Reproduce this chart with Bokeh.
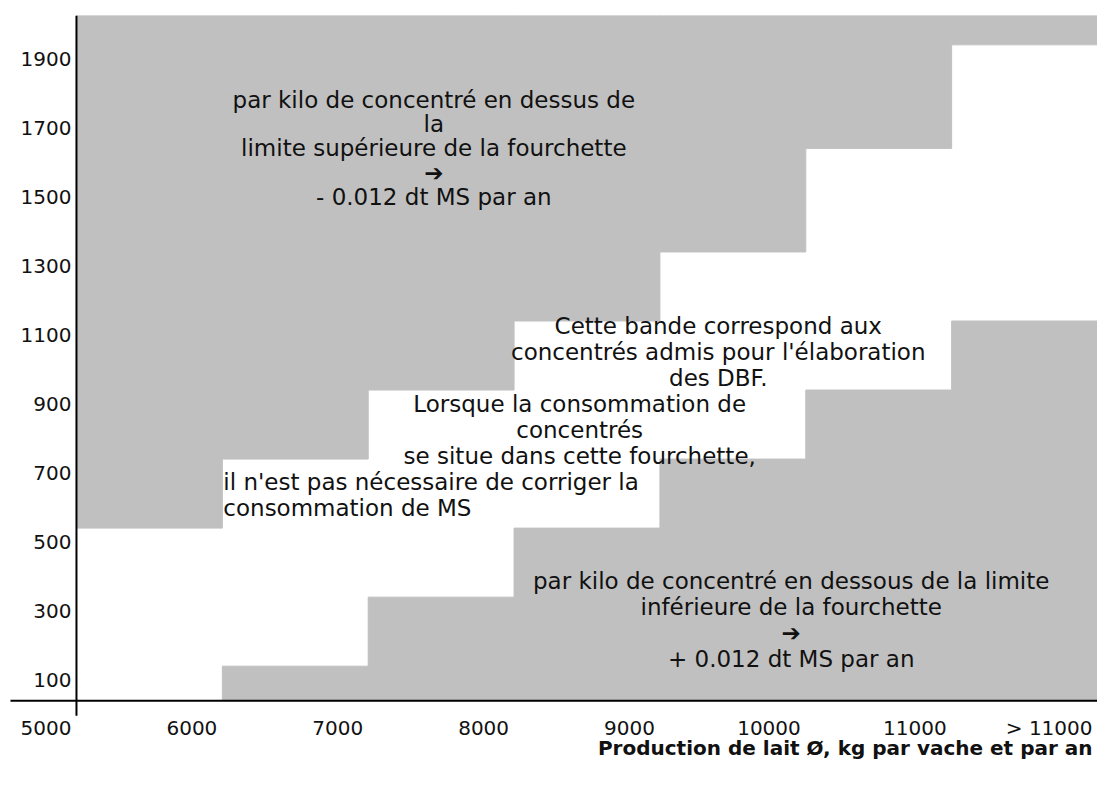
from bokeh.plotting import figure
from bokeh.models import Range1d
from bokeh.core.properties import value
from bokeh.embed import file_html
from bokeh.resources import INLINE

# ---- data ----
col_start = [5000, 6000, 7000, 8000, 9000, 10000, 11000]
col_end = [6000, 7000, 8000, 9000, 10000, 11000, 12000]
band_low = [0, 100, 300, 500, 700, 900, 1100]       # lower limit of concentrate band
band_high = [500, 700, 900, 1100, 1300, 1600, 1900]  # upper limit of concentrate band
x_tick_pos = [5000, 6000, 7000, 8000, 9000, 10000, 11000, 12000]
x_tick_labels = ["5000", "6000", "7000", "8000", "9000", "10000", "11000", "> 11000"]
y_tick_pos = [100, 300, 500, 700, 900, 1100, 1300, 1500, 1700, 1900]
y_tick_labels = ["100", "300", "500", "700", "900", "1100", "1300", "1500", "1700", "1900"]
x_title = "Production de lait Ø, kg par vache et par an"

txt_upper = "par kilo de concentré en dessus de\nla\nlimite supérieure de la fourchette\n➔\n- 0.012 dt MS par an"
txt_band1 = "Cette bande correspond aux\nconcentrés admis pour l'élaboration\ndes DBF."
txt_band2 = "Lorsque la consommation de\nconcentrés\nse situe dans cette fourchette,"
txt_band3 = "il n'est pas nécessaire de corriger la\nconsommation de MS"
txt_lower = "par kilo de concentré en dessous de la limite\ninférieure de la fourchette\n➔\n+ 0.012 dt MS par an"

# ---- layout ----
LEFT, TOP = 8, 15
W, H = 1097, 782
X0, X1 = 4534, 12000
Y0, Y1 = -237, 1985
frame_w = W - LEFT
frame_h = H - TOP
units_per_px_y = (Y1 - Y0) / frame_h
units_per_px_x = (X1 - X0) / frame_w

GRAY = "#c0c0c0"
INK = "#111111"
FONT = value("DejaVu Sans")

p = figure(width=W, height=H, output_backend="svg", toolbar_location=None,
           x_axis_location=None, y_axis_location=None,
           x_range=Range1d(X0, X1), y_range=Range1d(Y0, Y1),
           min_border_left=LEFT, min_border_right=0, min_border_top=TOP, min_border_bottom=0,
           outline_line_color=None, background_fill_color="white", border_fill_color="white")
p.grid.visible = False

# upper (above band) and lower (below band) grey areas
p.quad(left=col_start, right=col_end, bottom=band_high, top=[Y1] * len(col_start),
       fill_color=GRAY, line_color=GRAY, line_width=1)
p.quad(left=col_start[1:], right=col_end[1:], bottom=[0] * (len(col_start) - 1), top=band_low[1:],
       fill_color=GRAY, line_color=GRAY, line_width=1)

# axis lines (crossing at origin with small overhang)
p.segment(x0=[col_start[0]], y0=[-15 * units_per_px_y], x1=[col_start[0]], y1=[Y1],
          line_color="black", line_width=2)
p.segment(x0=[col_start[0] - 66 * units_per_px_x], y0=[0], x1=[X1], y1=[0],
          line_color="black", line_width=2)

# tick labels
p.text(x=[col_start[0]] * len(y_tick_pos), y=y_tick_pos, text=y_tick_labels,
       x_offset=-5, y_offset=14, text_align="right", text_baseline="middle",
       text_font=FONT, text_font_size="20px", text_color=INK)
p.text(x=x_tick_pos, y=[0] * len(x_tick_pos), text=x_tick_labels,
       x_offset=-5, y_offset=27, text_align="right", text_baseline="middle",
       text_font=FONT, text_font_size="20px", text_color=INK)
p.text(x=[X1], y=[0], text=[x_title], x_offset=-5, y_offset=47,
       text_align="right", text_baseline="middle", text_font=FONT,
       text_font_size="20px", text_font_style="bold", text_color=INK)

# annotations
def block(x, y, t, align="center", lh=1.0, xo=0):
    p.text(x=[x], y=[y], text=[t], text_align=align, text_baseline="middle",
           x_offset=xo, text_font=FONT, text_font_size="23px", text_color=INK,
           text_line_height=lh)

block(7450, 1600, txt_upper, lh=0.93)
block(9400, 1010, txt_band1)
block(8450, 784, txt_band2)
block(6000, 596, txt_band3, align="left", xo=1)
block(9900, 235, txt_lower, lh=1.0)

open("out.html", "w").write(file_html(p, INLINE))
